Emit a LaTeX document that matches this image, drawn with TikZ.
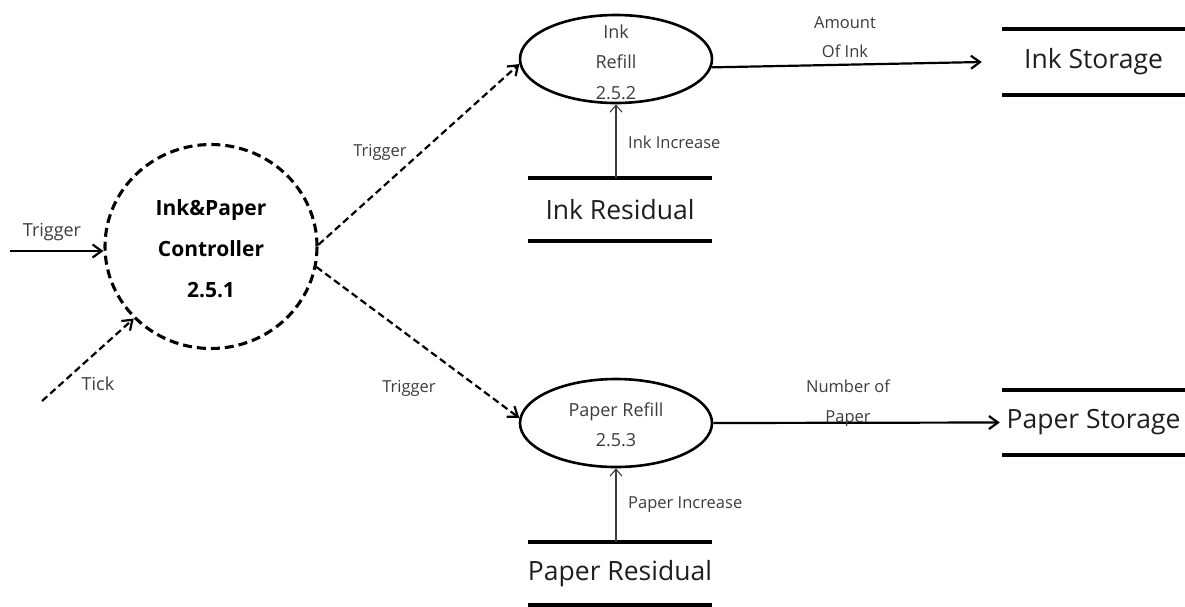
\documentclass[tikz,border=0pt]{standalone}
\usepackage{fontspec}
\setmainfont{Open Sans}
\usetikzlibrary{shapes.geometric,arrows.meta}
\definecolor{labelgray}{HTML}{3C3C3C}
\definecolor{textdark}{HTML}{1E1E1E}
\tikzset{
  process/.style={ellipse, draw, line width=2.6pt, minimum width=192pt, minimum height=88pt, inner sep=0pt},
  ctrlproc/.style={ellipse, draw, line width=3.1pt, dash pattern=on 9pt off 5pt, minimum width=212pt, minimum height=204pt, inner sep=0pt},
  store/.style={inner sep=0pt, text=textdark, font=\fontsize{26.5}{30}\selectfont},
  bar/.style={line width=4.2pt},
  flow/.style={line width=2.2pt, -{Straight Barb[length=9pt,width=13pt,line width=2.2pt]}},
  dflow/.style={flow, dash pattern=on 7pt off 4pt},
  thinflow/.style={line width=1.1pt, draw=labelgray, -{Straight Barb[length=7pt,width=12pt,line width=1.1pt]}},
  lbl/.style={text=labelgray, font=\fontsize{16.5}{19}\selectfont, inner sep=0pt},
  biglbl/.style={lbl, font=\fontsize{18}{21}\selectfont},
  proctext/.style={text=labelgray, align=center, font=\fontsize{18}{30.5}\selectfont, inner sep=0pt}
}
\begin{document}
\begin{tikzpicture}[x=1pt, y=-1pt]
\useasboundingbox (0,0) rectangle (1185,606);

% controller process
\node[ctrlproc] (ctrl) at (211,246.5) {};
\node[align=center, font=\fontsize{21}{41}\selectfont\bfseries, inner sep=0pt] (ctrltext) at (211,249) {Ink\&Paper\\Controller\\2.5.1};

% refill processes
\node[process] (inkref) at (616,59) {};
\node[proctext] (inkreftext) at (616,62) {Ink\\Refill\\2.5.2};
\node[process] (paperref) at (616,423) {};
\node[proctext] (paperreftext) at (616,424.5) {Paper Refill\\2.5.3};

% data stores
\node[store, minimum width=184pt, minimum height=63pt] (inkres) at (620,209.5) {Ink Residual};
\node[store, minimum width=184pt, minimum height=63pt] (paperres) at (620,573.5) {Paper Residual};
\node[store, minimum width=183pt, minimum height=66pt] (inkstore) at (1093.5,62) {Ink Storage};
\node[store, minimum width=183pt, minimum height=65pt] (paperstore) at (1093.5,422.5) {Paper Storage};
\foreach \s in {inkres,paperres,inkstore,paperstore}{
  \draw[bar] (\s.north west) -- (\s.north east);
  \draw[bar] (\s.south west) -- (\s.south east);
}

% external inputs
\coordinate (trigin) at (10,251);
\coordinate (tickin) at (42,401);
\draw[flow] (trigin) -- (trigin -| ctrl.west);
\node[biglbl] (trigl) at (52,232) {Trigger};
\draw[dflow] (tickin) -- (ctrl.223);
\node[biglbl] (tickl) at (98,384) {Tick};

% controller triggers
\draw[dflow] (ctrl.1) -- (inkref.183);
\node[lbl] (trigup) at (380,152) {Trigger};
\draw[dflow] (ctrl.-11.5) -- (paperref.177);
\node[lbl] (trigdown) at (409,388) {Trigger};

% residual increases
\draw[thinflow] (inkref.south |- inkres.north) -- (inkref.south);
\node[lbl, anchor=west] (inkinc) at (628,142) {Ink Increase};
\draw[thinflow] (paperref.south |- paperres.north) -- (paperref.south);
\node[lbl, anchor=west] (paperinc) at (628,505) {Paper Increase};

% outputs to storage
\draw[flow] (inkref.-5) -- ([xshift=-20pt]inkstore.west);
\node[lbl, align=center, font=\fontsize{16.5}{29}\selectfont] (amount) at (845,37) {Amount\\Of Ink};
\draw[flow] (paperref.east) -- ([xshift=-2pt]paperstore.west);
\node[lbl, align=center, font=\fontsize{16.5}{30}\selectfont] (number) at (848,403) {Number of\\Paper};
\end{tikzpicture}
\end{document}
